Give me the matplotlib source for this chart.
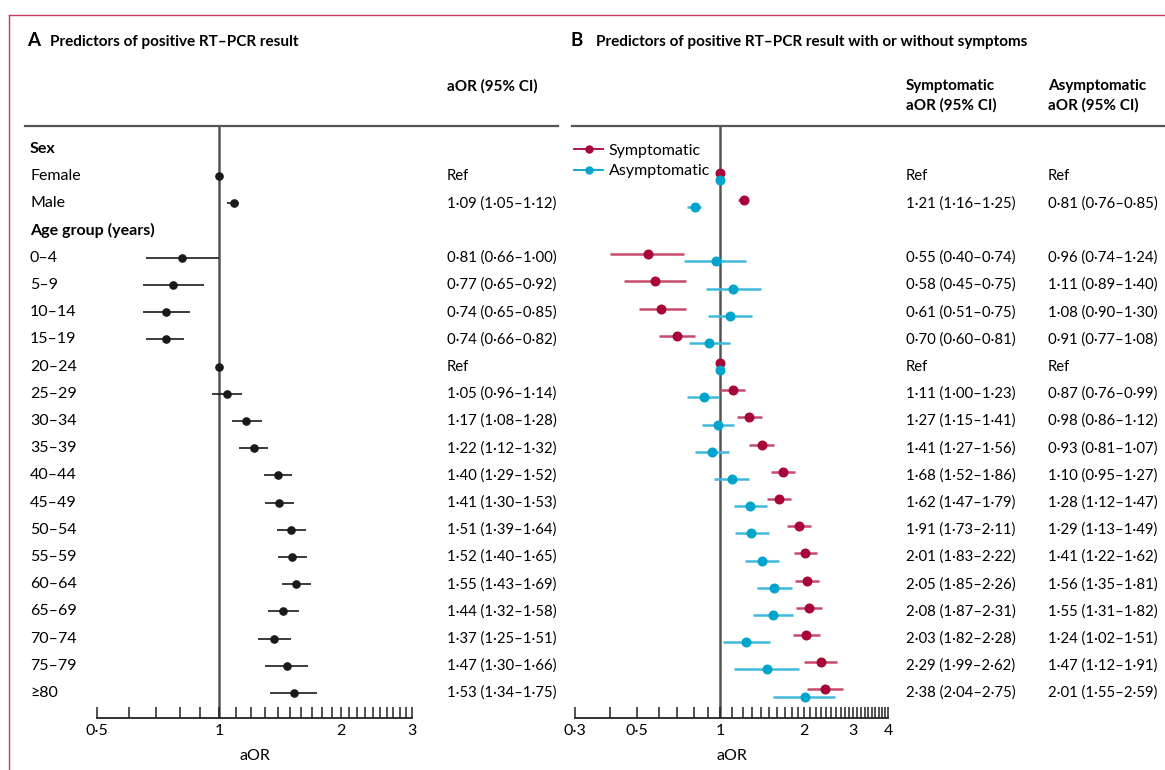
import numpy as np
import matplotlib
matplotlib.use('Agg')
import matplotlib.pyplot as plt
from matplotlib.lines import Line2D
from matplotlib.transforms import blended_transform_factory
from matplotlib.ticker import FixedLocator, FixedFormatter, NullFormatter

plt.rcParams['font.family'] = ['Lato', 'DejaVu Sans']

# rows, top to bottom
labels = ['Sex', 'Female', 'Male', 'Age group (years)', '0–4', '5–9', '10–14', '15–19',
          '20–24', '25–29', '30–34', '35–39', '40–44', '45–49', '50–54', '55–59',
          '60–64', '65–69', '70–74', '75–79', '≥80']
heading_rows = [0, 3]
ref_rows = [1, 8]

# panel A: overall aOR (heading rows are nan, ref rows are 1 with no CI)
a_or = [np.nan, 1, 1.09, np.nan, 0.81, 0.77, 0.74, 0.74, 1, 1.05, 1.17, 1.22, 1.40, 1.41,
        1.51, 1.52, 1.55, 1.44, 1.37, 1.47, 1.53]
a_lo = [np.nan, 1, 1.05, np.nan, 0.66, 0.65, 0.65, 0.66, 1, 0.96, 1.08, 1.12, 1.29, 1.30,
        1.39, 1.40, 1.43, 1.32, 1.25, 1.30, 1.34]
a_hi = [np.nan, 1, 1.12, np.nan, 1.00, 0.92, 0.85, 0.82, 1, 1.14, 1.28, 1.32, 1.52, 1.53,
        1.64, 1.65, 1.69, 1.58, 1.51, 1.66, 1.75]

# panel B: symptomatic
s_or = [np.nan, 1, 1.21, np.nan, 0.55, 0.58, 0.61, 0.70, 1, 1.11, 1.27, 1.41, 1.68, 1.62,
        1.91, 2.01, 2.05, 2.08, 2.03, 2.29, 2.38]
s_lo = [np.nan, 1, 1.16, np.nan, 0.40, 0.45, 0.51, 0.60, 1, 1.00, 1.15, 1.27, 1.52, 1.47,
        1.73, 1.83, 1.85, 1.87, 1.82, 1.99, 2.04]
s_hi = [np.nan, 1, 1.25, np.nan, 0.74, 0.75, 0.75, 0.81, 1, 1.23, 1.41, 1.56, 1.86, 1.79,
        2.11, 2.22, 2.26, 2.31, 2.28, 2.62, 2.75]

# panel B: asymptomatic
n_or = [np.nan, 1, 0.81, np.nan, 0.96, 1.11, 1.08, 0.91, 1, 0.87, 0.98, 0.93, 1.10, 1.28,
        1.29, 1.41, 1.56, 1.55, 1.24, 1.47, 2.01]
n_lo = [np.nan, 1, 0.76, np.nan, 0.74, 0.89, 0.90, 0.77, 1, 0.76, 0.86, 0.81, 0.95, 1.12,
        1.13, 1.22, 1.35, 1.31, 1.02, 1.12, 1.55]
n_hi = [np.nan, 1, 0.85, np.nan, 1.24, 1.40, 1.30, 1.08, 1, 0.99, 1.12, 1.07, 1.27, 1.47,
        1.49, 1.62, 1.81, 1.82, 1.51, 1.91, 2.59]

ticks_a = [0.5, 1, 2, 3]
ticks_b = [0.3, 0.5, 1, 2, 3, 4]

W, H = 1165, 770
CRIMSON = '#a8053a'
CRIMSON_L = '#c64a6c'
CYAN = '#00a4cd'
CYAN_L = '#40b9da'
VLINE = '#555555'
FS = 10.5


def fmt(v):
    return '{:.2f}'.format(v).replace('.', '·')


def ci_text(o, lo, hi, i):
    if i in ref_rows:
        return 'Ref'
    return '{} ({}–{})'.format(fmt(o), fmt(lo), fmt(hi))


def fx(px):
    return px / W


def fy(py):
    return 1 - py / H


fig = plt.figure(figsize=(W / 100, H / 100), dpi=100)

# row geometry: first row at 149 px, last row at 693 px, axes from 126 to 718 px
top_px, bot_px = 126, 718
r0, r1 = 149, 693
step = (r1 - r0) / (len(labels) - 1)
ylim = ((bot_px - r0) / step, (top_px - r0) / step)

axA = fig.add_axes([fx(97), fy(bot_px), fx(412 - 97), (bot_px - top_px) / H])
axB = fig.add_axes([fx(575), fy(bot_px), fx(888 - 575), (bot_px - top_px) / H])

for ax, lims, ticks in [(axA, (0.5, 3), ticks_a), (axB, (0.3, 4), ticks_b)]:
    ax.set_xscale('log')
    ax.set_xlim(*lims)
    ax.set_ylim(*ylim)
    ax.patch.set_alpha(0)
    for s in ['top', 'right', 'left']:
        ax.spines[s].set_visible(False)
    ax.spines['bottom'].set_linewidth(1.3)
    ax.spines['bottom'].set_color('#222222')
    ax.set_yticks([])
    minor = [v for v in np.round(np.arange(0.3, 4.01, 0.1), 2) if lims[0] <= v <= lims[1] and v not in ticks]
    ax.xaxis.set_major_locator(FixedLocator(ticks))
    ax.xaxis.set_major_formatter(FixedFormatter([str(t).replace('.', '·') for t in ticks]))
    ax.xaxis.set_minor_locator(FixedLocator(minor))
    ax.xaxis.set_minor_formatter(NullFormatter())
    ax.tick_params(axis='x', which='both', direction='in', length=8, width=1.1, color='#222222',
                   labelsize=FS + 1, pad=4)
    ax.axvline(1, color=VLINE, lw=1.8, zorder=1)
    ax.set_xlabel('aOR', fontsize=FS + 1, labelpad=8)

rows = np.arange(len(labels))

# panel A points
a_or_arr, a_lo_arr, a_hi_arr = np.array(a_or), np.array(a_lo), np.array(a_hi)
axA.errorbar(a_or_arr, rows, xerr=[a_or_arr - a_lo_arr, a_hi_arr - a_or_arr], fmt='o',
             color='#1a1a1a', ms=5.2, elinewidth=1.2, capsize=0, zorder=3)

# panel B points
off = 0.13
for o, lo, hi, dy, c, cl in [(s_or, s_lo, s_hi, -off, CRIMSON, CRIMSON_L),
                             (n_or, n_lo, n_hi, off, CYAN, CYAN_L)]:
    o, lo, hi = np.array(o), np.array(lo), np.array(hi)
    axB.errorbar(o, rows + dy, xerr=[o - lo, hi - o], fmt='o', color=c, ecolor=cl,
                 ms=6.2, elinewidth=1.8, capsize=0, zorder=3)

handles = [Line2D([], [], color=CRIMSON, marker='o', ms=5, lw=1.3, label='Symptomatic'),
           Line2D([], [], color=CYAN, marker='o', ms=5, lw=1.3, label='Asymptomatic')]
axB.legend(handles=handles, loc='upper left', bbox_to_anchor=(fx(568), fy(137)),
           bbox_transform=fig.transFigure, frameon=False, fontsize=FS + 1,
           handlelength=1.8, handletextpad=0.35, labelspacing=0.4, borderaxespad=0)

# row text
tA = blended_transform_factory(fig.transFigure, axA.transData)
for i, lab in enumerate(labels):
    bold = i in heading_rows
    axA.text(fx(30), i, lab, transform=tA, va='center', ha='left', fontsize=FS + 1,
             fontweight='bold' if bold else 'normal')
    if bold:
        continue
    axA.text(fx(447), i, ci_text(a_or[i], a_lo[i], a_hi[i], i), transform=tA, va='center',
             ha='left', fontsize=FS + 0.2)
    axA.text(fx(906), i, ci_text(s_or[i], s_lo[i], s_hi[i], i), transform=tA, va='center',
             ha='left', fontsize=FS + 0.2)
    axA.text(fx(1048), i, ci_text(n_or[i], n_lo[i], n_hi[i], i), transform=tA, va='center',
             ha='left', fontsize=FS + 0.2)

# titles and column headers
fig.text(fx(27), fy(41), 'A', fontsize=FS + 3, fontweight='bold', va='center', ha='left')
fig.text(fx(50), fy(42), 'Predictors of positive RT–PCR result', fontsize=FS + 0.5,
         fontweight='bold', va='center', ha='left')
fig.text(fx(571), fy(41), 'B', fontsize=FS + 3, fontweight='bold', va='center', ha='left')
fig.text(fx(596), fy(42), 'Predictors of positive RT–PCR result with or without symptoms',
         fontsize=FS + 0.5, fontweight='bold', va='center', ha='left')
fig.text(fx(447), fy(86), 'aOR (95% CI)', fontsize=FS + 0.5, fontweight='bold', va='center')
fig.text(fx(906), fy(86), 'Symptomatic', fontsize=FS + 0.5, fontweight='bold', va='center')
fig.text(fx(906), fy(105), 'aOR (95% CI)', fontsize=FS + 0.5, fontweight='bold', va='center')
fig.text(fx(1048), fy(86), 'Asymptomatic', fontsize=FS + 0.5, fontweight='bold', va='center')
fig.text(fx(1048), fy(105), 'aOR (95% CI)', fontsize=FS + 0.5, fontweight='bold', va='center')

# header rules
fig.add_artist(Line2D([fx(25), fx(558)], [fy(126), fy(126)], color='#555555', lw=1.6))
fig.add_artist(Line2D([fx(572), fx(1165)], [fy(126), fy(126)], color='#555555', lw=1.6))

# frame edges
fig.add_artist(Line2D([fx(9), fx(1165)], [fy(15), fy(15)], color='#c23a5e', lw=1.0))
fig.add_artist(Line2D([fx(9), fx(9)], [fy(15), 0], color='#c23a5e', lw=1.0))

fig.savefig('out.png', dpi=100)
